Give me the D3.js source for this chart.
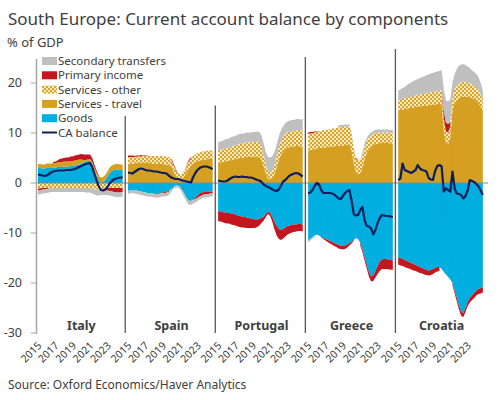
<!DOCTYPE html>
<html>
<head>
<meta charset="utf-8">
<script src="https://cdn.jsdelivr.net/npm/d3@7"></script>
<style>
  body { margin: 0; background: #fff; }
  text { font-family: "Noto Sans", sans-serif; fill: #404040; }
</style>
</head>
<body>
<script>
// quarterly, 2015Q1 - 2024Q4, % of GDP ; rows = Italy, Spain, Portugal, Greece, Croatia
const countries = ["Italy", "Spain", "Portugal", "Greece", "Croatia"];
const yearLabels = ["2015", "2017", "2019", "2021", "2023"];
const yearIndex = [0, 8, 16, 24, 32];
const yTicks = [-30, -20, -10, 0, 10, 20];
const dividerTops = [13.4, 15.5, 25.2, 26.8];

const goods = [
  [3.0,3.0,2.9,2.9,3.0,3.0,3.0,3.1,3.1,3.2,3.2,3.2,3.3,3.3,3.3,3.4,3.4,3.5,3.6,3.7,3.9,4.1,4.3,4.4,4.5,3.8,2.6,1.4,0.5,0.2,0.2,0.6,1.3,2.0,2.4,2.6,2.7,2.7,2.6,2.6],
  [-1.6,-1.5,-1.4,-1.4,-1.5,-1.6,-1.7,-1.8,-1.9,-2.0,-2.0,-2.1,-2.1,-2.1,-2.1,-2.0,-1.9,-1.8,-1.7,-1.5,-1.2,-0.8,-0.5,-0.5,-0.8,-1.4,-2.2,-3.0,-3.5,-3.6,-3.3,-2.9,-2.5,-2.1,-1.9,-1.8,-1.8,-1.7,-1.7,-1.7],
  [-5.6,-5.7,-5.8,-5.9,-6.0,-6.0,-6.1,-6.2,-6.3,-6.5,-6.6,-6.7,-6.8,-6.9,-7.0,-7.1,-7.2,-7.3,-7.3,-7.2,-7.0,-6.7,-6.2,-5.7,-6.0,-6.8,-7.8,-8.6,-9.2,-9.4,-9.2,-8.9,-8.6,-8.5,-8.4,-8.3,-8.3,-8.2,-8.2,-8.3],
  [-11.6,-11.2,-10.8,-10.5,-10.3,-10.5,-10.8,-11.0,-11.2,-11.4,-11.6,-11.8,-12.0,-12.2,-12.4,-12.5,-12.6,-12.5,-12.3,-12.0,-11.8,-11.4,-11.0,-11.2,-12.0,-13.2,-14.8,-16.3,-17.8,-18.7,-18.5,-17.6,-16.6,-15.8,-15.3,-15.2,-15.2,-15.3,-15.4,-15.5],
  [-14.8,-15.0,-15.2,-15.4,-15.6,-15.8,-16.0,-16.2,-16.4,-16.6,-16.8,-17.0,-17.2,-17.4,-17.5,-17.4,-17.2,-17.0,-16.8,-16.8,-17.2,-17.8,-18.3,-18.8,-19.3,-20.0,-21.5,-23.0,-24.5,-25.8,-26.0,-25.0,-23.8,-23.0,-22.5,-22.0,-21.5,-21.2,-21.0,-20.8]
];
const travel = [
  [0.8,0.8,0.8,0.8,0.9,0.9,0.9,0.9,0.9,0.9,1.0,1.0,1.0,1.0,1.0,1.0,1.0,1.0,1.0,1.0,0.8,0.5,0.3,0.3,0.3,0.4,0.5,0.7,0.8,0.9,1.0,1.0,1.0,1.1,1.1,1.1,1.1,1.1,1.1,1.1],
  [3.9,3.9,3.9,3.9,4.0,4.0,4.0,4.0,4.0,4.0,4.0,3.9,3.9,3.9,3.8,3.8,3.8,3.7,3.7,3.6,3.1,2.3,1.5,0.9,0.7,0.9,1.4,2.1,2.9,3.5,3.9,4.2,4.4,4.5,4.6,4.7,4.7,4.8,4.8,4.8],
  [4.0,4.1,4.2,4.3,4.4,4.5,4.6,4.7,4.8,4.9,5.0,5.1,5.1,5.2,5.2,5.2,5.3,5.3,5.3,5.2,4.6,3.3,1.8,0.9,0.7,1.0,1.8,3.2,4.6,5.6,6.3,6.8,7.1,7.2,7.3,7.3,7.4,7.4,7.3,7.3],
  [6.5,6.6,6.7,6.8,6.9,7.0,7.0,7.1,7.1,7.2,7.2,7.3,7.3,7.4,7.4,7.5,7.5,7.6,7.6,7.6,6.5,4.0,2.2,1.8,1.9,3.0,4.8,6.0,6.8,7.3,7.6,7.8,7.9,8.0,8.0,8.0,8.0,8.0,7.9,7.9],
  [14.5,14.6,14.7,14.8,14.9,15.0,15.0,15.1,15.2,15.3,15.3,15.4,15.4,15.5,15.5,15.6,15.7,15.7,15.8,15.8,15.6,10.5,8.0,7.8,9.0,14.5,16.0,16.5,17.0,17.2,17.3,17.3,17.2,17.2,17.0,16.8,16.5,16.0,15.3,14.6]
];
const other = [
  [-1.1,-1.1,-1.0,-1.0,-1.0,-1.0,-1.0,-1.0,-1.0,-1.0,-1.0,-1.0,-1.0,-1.0,-1.0,-1.0,-1.0,-1.0,-1.0,-1.0,-1.0,-1.0,-1.0,-1.0,-1.0,-1.1,-1.2,-1.3,-1.3,-1.3,-1.2,-1.1,-1.0,-1.0,-1.0,-1.0,-1.0,-1.0,-1.0,-1.0],
  [1.3,1.3,1.3,1.3,1.3,1.3,1.4,1.4,1.4,1.4,1.5,1.5,1.5,1.5,1.6,1.6,1.6,1.6,1.6,1.6,1.5,1.3,1.1,1.0,1.0,1.1,1.2,1.3,1.4,1.5,1.5,1.5,1.6,1.6,1.6,1.7,1.7,1.7,1.7,1.7],
  [2.5,2.5,2.5,2.6,2.6,2.6,2.7,2.7,2.7,2.8,2.8,2.8,2.8,2.9,2.9,2.9,2.9,2.9,3.0,3.0,2.8,2.3,1.8,1.5,1.4,1.6,1.9,2.2,2.6,2.8,2.9,3.0,3.0,3.1,3.1,3.1,3.2,3.2,3.2,3.3],
  [3.3,3.3,3.3,3.3,3.4,3.4,3.4,3.5,3.5,3.5,3.5,3.6,3.6,3.6,3.7,3.7,3.7,3.7,3.7,3.7,3.5,3.0,2.7,2.6,2.6,2.6,2.5,2.4,2.3,2.2,2.2,2.2,2.2,2.1,2.1,2.1,2.1,2.1,2.1,2.1],
  [2.0,2.0,2.1,2.1,2.2,2.2,2.2,2.3,2.3,2.3,2.4,2.4,2.4,2.5,2.5,2.5,2.5,2.6,2.6,2.6,2.6,2.5,2.3,2.3,2.4,2.6,2.8,3.0,3.0,3.0,3.0,2.9,2.9,2.8,2.7,2.6,2.5,2.4,2.3,2.2]
];
const primary = [
  [-0.4,-0.4,-0.3,-0.3,-0.2,-0.1,0.0,0.2,0.3,0.4,0.6,0.7,0.7,0.8,0.8,0.9,0.9,1.0,1.0,1.0,1.1,1.1,1.1,1.0,0.9,0.8,0.6,0.4,0.2,0.0,-0.2,-0.4,-0.5,-0.6,-0.7,-0.8,-0.9,-0.9,-0.9,-0.8],
  [0.3,0.3,0.3,0.2,0.2,0.2,0.2,0.1,0.1,0.1,0.0,0.0,-0.1,-0.1,-0.1,-0.1,-0.1,-0.2,-0.2,-0.2,0.3,0.3,0.2,0.1,0.0,-0.1,0.0,0.2,0.3,0.2,-0.1,-0.3,-0.5,-0.6,-0.6,-0.5,-0.5,-0.5,-0.4,-0.4],
  [-2.0,-2.0,-2.0,-2.1,-2.1,-2.1,-2.2,-2.2,-2.2,-2.2,-2.2,-2.2,-2.1,-2.1,-2.0,-1.9,-1.8,-1.7,-1.5,-1.3,-1.0,-0.8,-0.6,-0.5,-0.6,-1.0,-1.5,-1.9,-2.0,-2.0,-1.9,-1.8,-1.7,-1.6,-1.5,-1.5,-1.4,-1.4,-1.4,-1.4],
  [0.3,0.3,0.2,0.2,0.1,0.0,-0.1,-0.2,-0.3,-0.4,-0.5,-0.5,-0.6,-0.6,-0.7,-0.7,-0.7,-0.7,-0.6,-0.5,-0.3,-0.2,0.2,0.2,-0.5,-0.6,-0.7,-0.8,-0.9,-1.0,-1.1,-1.3,-1.6,-1.8,-1.9,-2.0,-2.0,-2.0,-1.9,-1.9],
  [-1.5,-1.5,-1.4,-1.4,-1.4,-1.3,-1.3,-1.3,-1.2,-1.2,-1.2,-1.1,-1.1,-1.0,-1.0,-1.0,-1.0,-0.9,-0.9,-0.8,0.4,1.5,1.8,1.7,0.8,-0.4,-0.6,-0.7,-0.8,-0.8,-0.8,-0.8,-0.8,-0.9,-0.9,-1.0,-1.0,-1.0,-1.1,-1.1]
];
const secondary = [
  [-0.8,-0.8,-0.8,-0.8,-0.8,-0.8,-0.8,-0.8,-0.8,-0.8,-0.8,-0.8,-0.8,-0.8,-0.8,-0.8,-0.8,-0.8,-0.8,-0.8,-0.8,-0.8,-0.9,-0.9,-0.9,-1.0,-1.1,-1.2,-1.2,-1.1,-1.0,-0.9,-0.9,-0.9,-0.9,-0.9,-0.9,-0.9,-0.9,-0.9],
  [-0.6,-0.6,-0.6,-0.7,-0.7,-0.7,-0.7,-0.7,-0.7,-0.7,-0.7,-0.7,-0.7,-0.7,-0.7,-0.7,-0.7,-0.7,-0.7,-0.6,-0.5,-0.4,-0.4,-0.4,-0.5,-0.6,-0.7,-0.8,-0.8,-0.8,-0.7,-0.7,-0.6,-0.6,-0.6,-0.6,-0.6,-0.6,-0.6,-0.6],
  [1.7,1.7,1.7,1.8,1.8,1.8,1.9,1.9,1.9,2.0,2.0,2.0,2.0,2.0,2.0,2.0,2.0,2.0,2.0,2.0,2.1,2.3,2.5,2.8,3.0,2.8,2.5,2.3,2.2,2.2,2.2,2.2,2.2,2.2,2.2,2.2,2.2,2.2,2.2,2.2],
  [-0.3,-0.3,-0.3,-0.3,0.0,0.0,0.0,0.0,0.0,0.0,0.0,0.0,0.0,0.0,0.4,0.4,0.4,0.4,0.4,0.4,0.1,0.1,0.1,0.1,0.1,0.6,0.6,0.6,0.6,0.6,0.6,0.6,0.6,0.6,0.6,0.6,0.6,0.6,0.6,0.6],
  [2.0,2.1,2.2,2.3,2.5,2.7,2.9,3.0,3.1,3.2,3.3,3.4,3.5,3.6,3.7,3.8,3.8,3.9,3.9,4.0,4.0,4.2,4.4,4.5,4.5,3.0,3.0,3.3,3.5,3.5,3.5,3.4,3.2,3.0,2.8,2.8,2.8,2.8,2.4,1.6]
];
const caBalance = [
  [1.7,1.6,1.5,1.4,1.5,1.8,2.1,2.3,2.4,2.5,2.5,2.5,2.5,2.6,2.6,2.6,2.7,2.8,3.0,3.2,3.4,3.6,3.8,3.9,4.0,3.2,1.8,0.5,-0.7,-1.4,-1.5,-1.3,-0.8,-0.1,0.4,0.7,0.9,1.0,1.1,1.1],
  [2.1,2.0,1.9,2.2,2.5,2.8,2.9,2.8,2.6,2.5,2.5,2.4,2.3,2.3,2.2,2.1,2.0,2.0,1.8,1.4,1.1,0.9,0.8,0.8,0.7,0.5,0.4,0.3,0.2,0.1,1.2,2.0,2.6,3.0,3.2,3.3,3.3,3.2,3.0,2.8],
  [0.5,0.4,0.3,0.3,0.4,0.7,1.0,1.2,1.3,1.2,1.2,1.3,1.2,1.2,1.1,1.1,1.0,0.8,0.6,0.5,0.2,-0.3,-0.6,-0.8,-1.0,-1.3,-1.5,-1.6,-1.3,-0.5,0.3,0.6,1.1,1.5,1.7,1.9,2.0,1.9,1.6,1.3],
  [-2.1,-1.9,-1.4,-0.6,0.0,-0.3,-1.4,-2.0,-2.0,-2.0,-2.0,-2.1,-2.3,-2.7,-3.1,-3.2,-2.6,-2.0,-1.6,-1.4,-3.5,-6.2,-6.5,-6.4,-5.4,-4.8,-7.4,-8.6,-8.7,-9.1,-10.3,-9.4,-8.0,-7.0,-6.4,-6.5,-6.6,-6.6,-6.7,-6.8],
  [0.6,0.9,3.9,2.6,2.4,2.2,2.0,2.3,2.6,3.6,2.9,2.6,2.5,2.3,1.0,0.7,0.6,2.4,3.4,3.6,3.3,-1.7,-1.1,-1.4,-1.7,2.3,-1.1,-2.1,-2.2,-2.4,-3.1,-2.6,-1.5,0.6,0.4,0.2,-0.2,-0.7,-1.5,-2.4]
];

const W = 500, H = 400;
const slotsPerPanel = 41.5;
const keys = ["goods", "travel", "other", "primary", "secondary"];
const fills = {
  goods: "#00aee0",
  travel: "#d5a021",
  other: "url(#svcOther)",
  primary: "#c4161f",
  secondary: "#bfbfbf"
};

const svg = d3.select("body").append("svg")
    .attr("width", W)
    .attr("height", H);

// checker pattern for "Services - other"
const pat = svg.append("defs").append("pattern")
    .attr("id", "svcOther")
    .attr("patternUnits", "userSpaceOnUse")
    .attr("width", 4).attr("height", 4);
pat.append("rect").attr("width", 4).attr("height", 4).attr("fill", "#f8e9bd");
pat.append("rect").attr("width", 2).attr("height", 2).attr("fill", "#d8a52c");
pat.append("rect").attr("x", 2).attr("y", 2).attr("width", 2).attr("height", 2).attr("fill", "#d8a52c");

const x = d3.scaleLinear().domain([0, slotsPerPanel * 5]).range([38, 38 + slotsPerPanel * 5 * 2.17]);
const y = d3.scaleLinear().domain([-30, 25]).range([333, 58]);

// title etc
svg.append("text").attr("x", 8).attr("y", 25)
    .style("font-size", "17px").text("South Europe: Current account balance by components");
svg.append("text").attr("x", 7).attr("y", 47)
    .style("font-size", "13px").text("% of GDP");
svg.append("text").attr("x", 8).attr("y", 389)
    .style("font-size", "12px").text("Source: Oxford Economics/Haver Analytics");

const stack = d3.stack().keys(keys).offset(d3.stackOffsetDiverging);
const area = d3.area()
    .x(d => x(d.slot))
    .y0(d => y(d[0]))
    .y1(d => y(d[1]));

const plot = svg.append("g");

countries.forEach((c, p) => {
  const rows = goods[p].map((g, i) => ({
    slot: p * slotsPerPanel + i,
    goods: g,
    travel: travel[p][i],
    other: other[p][i],
    primary: primary[p][i],
    secondary: secondary[p][i]
  }));
  const series = stack(rows);
  series.forEach(s => s.forEach(d => d.slot = d.data.slot));

  plot.append("g").selectAll("path")
    .data(series)
    .join("path")
      .attr("fill", s => fills[s.key])
      .attr("d", area);
});

// zero line
svg.append("line")
    .attr("x1", 37).attr("x2", x(slotsPerPanel * 5))
    .attr("y1", y(0)).attr("y2", y(0))
    .attr("stroke", "#7f8a99").attr("stroke-width", 1);

// CA balance lines
const line = d3.line().x(d => x(d[0])).y(d => y(d[1]));
countries.forEach((c, p) => {
  svg.append("path")
    .datum(caBalance[p].map((v, i) => [p * slotsPerPanel + i, v]))
    .attr("fill", "none")
    .attr("stroke", "#0c1f5c")
    .attr("stroke-width", 2.2)
    .attr("stroke-linejoin", "round")
    .attr("d", line);
});

// panel dividers
svg.append("g").selectAll("line")
  .data(dividerTops)
  .join("line")
    .attr("x1", (d, k) => x((k + 1) * slotsPerPanel - 1.3))
    .attr("x2", (d, k) => x((k + 1) * slotsPerPanel - 1.3))
    .attr("y1", d => y(d))
    .attr("y2", y(-30))
    .attr("stroke", "#595959")
    .attr("stroke-width", 1.3);

// y axis
const yAxis = svg.append("g");
yAxis.append("line")
    .attr("x1", 36.5).attr("x2", 36.5)
    .attr("y1", y(24.8)).attr("y2", y(-30) + 1)
    .attr("stroke", "#a6a6a6").attr("stroke-width", 1.5);
yAxis.selectAll(".tk")
  .data(yTicks)
  .join("line")
    .attr("x1", 30.5).attr("x2", 36)
    .attr("y1", d => y(d)).attr("y2", d => y(d))
    .attr("stroke", "#a6a6a6").attr("stroke-width", 1);
yAxis.selectAll("text")
  .data(yTicks)
  .join("text")
    .attr("x", 22)
    .attr("y", d => y(d))
    .attr("dy", "0.35em")
    .attr("text-anchor", "end")
    .style("font-size", "12.5px")
    .text(d => d);

// country labels and year ticks
countries.forEach((c, p) => {
  svg.append("text")
    .attr("x", x(p * slotsPerPanel + 20))
    .attr("y", 330)
    .attr("text-anchor", "middle")
    .style("font-size", "12.5px")
    .style("font-weight", "bold")
    .text(c);
  yearIndex.forEach((qi, k) => {
    const tx = x(p * slotsPerPanel + qi);
    svg.append("text")
      .attr("transform", `translate(${tx - 1},${341}) rotate(-45)`)
      .attr("text-anchor", "end")
      .attr("dy", "0.7em")
      .style("font-size", "10.5px")
      .text(yearLabels[k]);
  });
});

// legend
const legendItems = [
  { name: "Secondary transfers", key: "secondary" },
  { name: "Primary income", key: "primary" },
  { name: "Services - other", key: "other" },
  { name: "Services - travel", key: "travel" },
  { name: "Goods", key: "goods" },
  { name: "CA balance", key: "ca" }
];
const lg = svg.append("g");
legendItems.forEach((it, k) => {
  const by = 65 + k * 14.3;
  if (it.key === "ca") {
    lg.append("line")
      .attr("x1", 42).attr("x2", 57)
      .attr("y1", by - 4).attr("y2", by - 4)
      .attr("stroke", "#0c1f5c").attr("stroke-width", 2);
  } else {
    lg.append("rect")
      .attr("x", 42).attr("y", by - 8)
      .attr("width", 15).attr("height", 8)
      .attr("fill", fills[it.key]);
  }
  lg.append("text")
    .attr("x", 58).attr("y", by)
    .style("font-size", "11.5px")
    .text(it.name);
});
</script>
</body>
</html>
